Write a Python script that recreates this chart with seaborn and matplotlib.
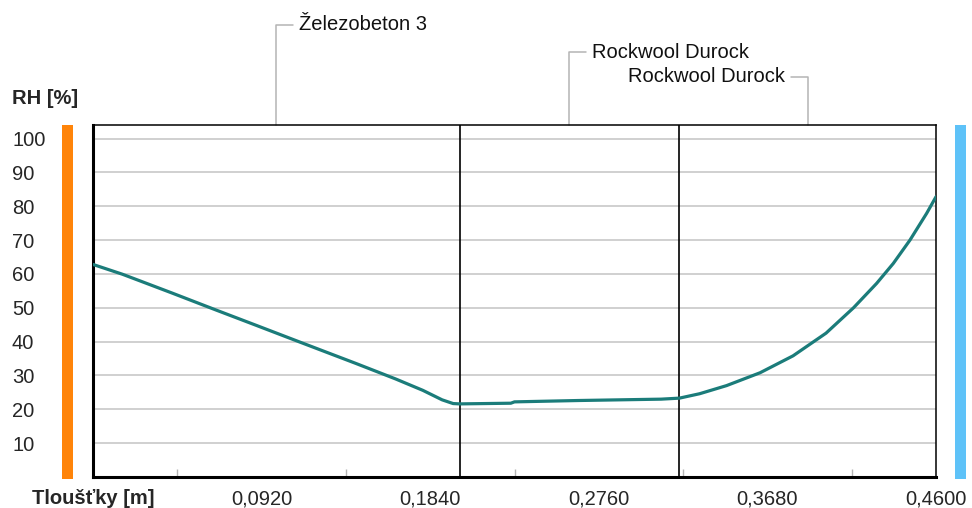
import numpy as np
import pandas as pd
import matplotlib
matplotlib.use("Agg")
import matplotlib.pyplot as plt
from matplotlib.patches import Rectangle
from matplotlib.transforms import blended_transform_factory
import seaborn as sns

# Relative humidity profile through the wall section
thickness_m = [0.0, 0.0161, 0.0434, 0.0673, 0.0891, 0.1127, 0.1437, 0.165, 0.18,
               0.1905, 0.1965, 0.2, 0.228, 0.23, 0.265, 0.31, 0.32, 0.331, 0.3457,
               0.364, 0.382, 0.400, 0.415, 0.4276, 0.4367, 0.4458, 0.4549, 0.46]
rh_percent = [62.8, 59.9, 54.3, 49.3, 44.8, 39.9, 33.5, 29.0, 25.6,
              22.8, 21.7, 21.6, 21.8, 22.2, 22.6, 23.0, 23.3, 24.6, 27.0,
              30.8, 35.8, 42.5, 50.0, 57.2, 63.1, 70.0, 77.9, 82.8]

# Material layers and their boundaries [m]
layer_names = ["Železobeton 3", "Rockwool Durock", "Rockwool Durock"]
layer_bounds = [0.0, 0.2, 0.32, 0.46]

# Axis ticks
x_ticks = [0.0, 0.092, 0.184, 0.276, 0.368, 0.46]
x_tick_labels = ["Tloušťky [m]", "0,0920", "0,1840", "0,2760", "0,3680", "0,4600"]
x_minor_ticks = [0.046, 0.138, 0.230, 0.322, 0.414]
y_ticks = [10, 20, 30, 40, 50, 60, 70, 80, 90, 100]
y_tick_labels = ["10", "20", "30", "40", "50", "60", "70", "80", "90", "100"]

sns.set_style("white")
plt.rcParams["font.family"] = ["Liberation Sans", "DejaVu Sans"]
plt.rcParams["font.size"] = 14.5

W, H = 972, 508
fig = plt.figure(figsize=(W / 100, H / 100), dpi=100)
ax_l, ax_r, ax_t, ax_b = 93, 936, 125, 477
ax = fig.add_axes([ax_l / W, (H - ax_b) / H, (ax_r - ax_l) / W, (ax_b - ax_t) / H])

df = pd.DataFrame({"t": thickness_m, "rh": rh_percent})

# Horizontal grid
for v in y_ticks:
    ax.axhline(v, color="#c8c8c8", lw=1.2, zorder=1)

# Layer boundaries
for b in layer_bounds[1:-1]:
    ax.axvline(b, color="black", lw=1.2, zorder=2)

sns.lineplot(data=df, x="t", y="rh", ax=ax, color="#1b7c7a", lw=2.3, zorder=3)

ax.set_xlim(0, 0.46)
ax.set_ylim(0, 104)
ax.set_xlabel("")
ax.set_ylabel("")

ax.set_xticks(x_ticks)
ax.set_xticklabels(x_tick_labels)
ax.get_xticklabels()[0].set_fontweight("bold")
ax.set_xticks(x_minor_ticks, minor=True)
ax.tick_params(axis="x", which="major", length=0, pad=9)
ax.tick_params(axis="x", which="minor", direction="in", length=6, width=1.0,
               color="#b4b4b4", bottom=True)

ax.set_yticks(y_ticks)
ax.set_yticklabels(y_tick_labels)
ax.tick_params(axis="y", length=0, pad=(ax_l - 12) * 0.72)
for lab in ax.get_yticklabels():
    lab.set_horizontalalignment("left")

for side in ["left", "bottom"]:
    ax.spines[side].set_linewidth(2.2)
    ax.spines[side].set_color("black")
for side in ["top", "right"]:
    ax.spines[side].set_linewidth(1.1)
    ax.spines[side].set_color("black")

# Layer name callouts above the plot
trans = blended_transform_factory(ax.transData, ax.transAxes)
px_to_x = 0.46 / (ax_r - ax_l)
levels = [(ax_b - 25) / (ax_b - ax_t), (ax_b - 52) / (ax_b - ax_t), (ax_b - 77) / (ax_b - ax_t)]
sides = [1, 1, -1]
lead_color = "#b4b4b4"
for name, x0, x1, lvl, s in zip(layer_names, layer_bounds[:-1], layer_bounds[1:], levels, sides):
    mid = (x0 + x1) / 2
    end = mid + s * 17 * px_to_x
    ax.plot([mid, mid, end], [1.0, lvl, lvl], color=lead_color, lw=1.1,
            transform=trans, clip_on=False)
    ax.text(end + s * 6 * px_to_x, lvl, name, transform=trans,
            ha="left" if s > 0 else "right", va="center", color="#111111")

# Y axis title
fig.text(12 / W, 1 - 99 / H, "RH [%]", fontweight="bold", ha="left", va="center")

# Interior / exterior side bars
fig.add_artist(Rectangle((62 / W, 1 - 479 / H), 11 / W, 354 / H,
                         transform=fig.transFigure, color="#ff8409", lw=0))
fig.add_artist(Rectangle((955 / W, 1 - 479 / H), 11 / W, 354 / H,
                         transform=fig.transFigure, color="#5ec2f8", lw=0))

fig.savefig("out.png", dpi=100)
